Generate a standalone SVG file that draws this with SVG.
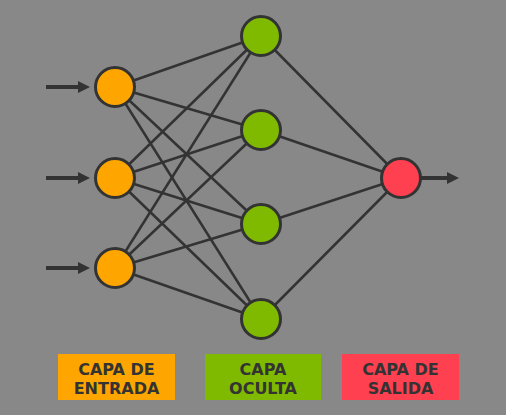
<svg xmlns="http://www.w3.org/2000/svg" width="506" height="415" viewBox="0 0 506 415">
<defs>
<style>
.edge{stroke:#333;stroke-width:2.5;fill:none}
.arrow{stroke:#333;stroke-width:4;fill:none}
.node{stroke:#333;stroke-width:3}
.in{fill:#FFA500}
.hid{fill:#7FBA00}
.out{fill:#FF4050}
.lbl{font-family:"DejaVu Sans",sans-serif;font-weight:bold;font-size:16px;fill:#333;text-anchor:middle}
</style>
<marker id="ah" markerWidth="3" markerHeight="3" refX="0" refY="1.5" orient="auto" markerUnits="strokeWidth">
<path d="M0,0 L3,1.5 L0,3 Z" fill="#333"/>
</marker>
</defs>
<rect width="506" height="415" fill="#888888"/>
<g id="connectors">
<line class="arrow" x1="46" y1="87" x2="78" y2="87" marker-end="url(#ah)"/>
<line class="arrow" x1="46" y1="178" x2="78" y2="178" marker-end="url(#ah)"/>
<line class="arrow" x1="46" y1="268" x2="78" y2="268" marker-end="url(#ah)"/>
<line class="arrow" x1="420" y1="178" x2="447" y2="178" marker-end="url(#ah)"/>
<line class="edge" x1="115" y1="87" x2="261" y2="36"/>
<line class="edge" x1="115" y1="87" x2="261" y2="130"/>
<line class="edge" x1="115" y1="87" x2="261" y2="224"/>
<line class="edge" x1="115" y1="87" x2="261" y2="319"/>
<line class="edge" x1="115" y1="178" x2="261" y2="36"/>
<line class="edge" x1="115" y1="178" x2="261" y2="130"/>
<line class="edge" x1="115" y1="178" x2="261" y2="224"/>
<line class="edge" x1="115" y1="178" x2="261" y2="319"/>
<line class="edge" x1="115" y1="268" x2="261" y2="36"/>
<line class="edge" x1="115" y1="268" x2="261" y2="130"/>
<line class="edge" x1="115" y1="268" x2="261" y2="224"/>
<line class="edge" x1="115" y1="268" x2="261" y2="319"/>
<line class="edge" x1="261" y1="36" x2="401" y2="178"/>
<line class="edge" x1="261" y1="130" x2="401" y2="178"/>
<line class="edge" x1="261" y1="224" x2="401" y2="178"/>
<line class="edge" x1="261" y1="319" x2="401" y2="178"/>
</g>
<g id="in1"><circle class="node in" cx="115" cy="87" r="19.5"/></g>
<g id="in2"><circle class="node in" cx="115" cy="178" r="19.5"/></g>
<g id="in3"><circle class="node in" cx="115" cy="268" r="19.5"/></g>
<g id="h1"><circle class="node hid" cx="261" cy="36" r="19.5"/></g>
<g id="h2"><circle class="node hid" cx="261" cy="130" r="19.5"/></g>
<g id="h3"><circle class="node hid" cx="261" cy="224" r="19.5"/></g>
<g id="h4"><circle class="node hid" cx="261" cy="319" r="19.5"/></g>
<g id="out1"><circle class="node out" cx="401" cy="178" r="19.5"/></g>
<g id="lbl-in"><rect x="58" y="354" width="117" height="46" fill="#FFA500"/><text class="lbl" x="116.5" y="375">CAPA DE</text><text class="lbl" x="116.5" y="394">ENTRADA</text></g>
<g id="lbl-hid"><rect x="205" y="354" width="116" height="46" fill="#7FBA00"/><text class="lbl" x="263" y="375">CAPA</text><text class="lbl" x="263" y="394">OCULTA</text></g>
<g id="lbl-out"><rect x="342" y="354" width="117" height="46" fill="#FF4050"/><text class="lbl" x="400.5" y="375">CAPA DE</text><text class="lbl" x="400.5" y="394">SALIDA</text></g>
</svg>
